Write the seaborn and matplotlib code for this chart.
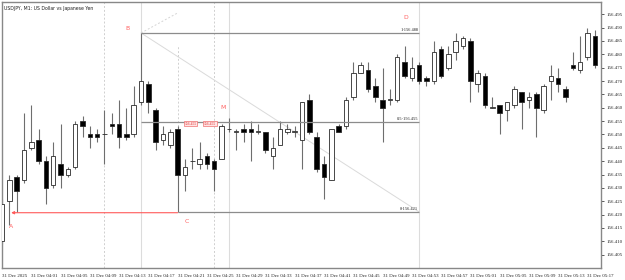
import numpy as np
import pandas as pd
import matplotlib
matplotlib.use("Agg")
import matplotlib.pyplot as plt
import seaborn as sns

# ---------------- data (USDJPY M1 candles) ----------------
tick_labels = ["31 Dec 2025", "31 Dec 04:01", "31 Dec 04:05", "31 Dec 04:09", "31 Dec 04:13",
               "31 Dec 04:17", "31 Dec 04:21", "31 Dec 04:25", "31 Dec 04:29", "31 Dec 04:33",
               "31 Dec 04:37", "31 Dec 04:41", "31 Dec 04:45", "31 Dec 04:49", "31 Dec 04:53",
               "31 Dec 04:57", "31 Dec 05:01", "31 Dec 05:05", "31 Dec 05:09", "31 Dec 05:13",
               "31 Dec 05:17"]

open_ = [156.410, 156.425, 156.434, 156.433, 156.445, 156.448, 156.440, 156.431, 156.439, 156.435,
         156.438, 156.455, 156.450, 156.450, 156.450, 156.454, 156.454, 156.450, 156.450, 156.462,
         156.469, 156.459, 156.448, 156.446, 156.452, 156.435, 156.440, 156.439, 156.442, 156.440,
         156.441, 156.452, 156.451, 156.452, 156.452, 156.451, 156.451, 156.442, 156.446, 156.451,
         156.451, 156.448, 156.463, 156.449, 156.439, 156.433, 156.453, 156.453, 156.464, 156.473,
         156.474, 156.468, 156.463, 156.463, 156.463, 156.477, 156.471, 156.476, 156.471, 156.470,
         156.482, 156.475, 156.481, 156.483, 156.485, 156.469, 156.472, 156.460, 156.461, 156.459,
         156.461, 156.466, 156.463, 156.465, 156.459, 156.470, 156.471, 156.467, 156.476, 156.474,
         156.479, 156.487]
high = [156.426, 156.435, 156.435, 156.458, 156.461, 156.452, 156.442, 156.447, 156.454, 156.438,
        156.455, 156.457, 156.453, 156.452, 156.459, 156.458, 156.463, 156.460, 156.468, 156.488,
        156.470, 156.460, 156.453, 156.452, 156.453, 156.441, 156.445, 156.447, 156.443, 156.441,
        156.454, 156.456, 156.452, 156.454, 156.455, 156.454, 156.451, 156.449, 156.455, 156.454,
        156.453, 156.462, 156.465, 156.451, 156.442, 156.452, 156.454, 156.464, 156.477, 156.477,
        156.477, 156.471, 156.475, 156.467, 156.480, 156.483, 156.479, 156.477, 156.472, 156.485,
        156.483, 156.483, 156.488, 156.487, 156.486, 156.474, 156.473, 156.464, 156.461, 156.462,
        156.468, 156.466, 156.466, 156.466, 156.469, 156.476, 156.475, 156.468, 156.481, 156.487,
        156.490, 156.489]
low = [156.409, 156.416, 156.421, 156.432, 156.444, 156.439, 156.424, 156.430, 156.430, 156.434,
       156.437, 156.449, 156.445, 156.447, 156.439, 156.450, 156.445, 156.448, 156.449, 156.461,
       156.458, 156.444, 156.446, 156.445, 156.421, 156.429, 156.437, 156.437, 156.437, 156.429,
       156.441, 156.451, 156.444, 156.447, 156.440, 156.450, 156.443, 156.437, 156.446, 156.450,
       156.449, 156.437, 156.450, 156.436, 156.426, 156.433, 156.451, 156.452, 156.463, 156.473,
       156.466, 156.462, 156.447, 156.461, 156.462, 156.471, 156.470, 156.469, 156.468, 156.469,
       156.471, 156.474, 156.478, 156.482, 156.462, 156.466, 156.460, 156.460, 156.450, 156.455,
       156.460, 156.452, 156.460, 156.449, 156.458, 156.463, 156.466, 156.462, 156.474, 156.473,
       156.478, 156.475]
close = [156.424, 156.433, 156.429, 156.444, 156.447, 156.440, 156.430, 156.442, 156.435, 156.437,
         156.454, 156.453, 156.449, 156.449, 156.450, 156.453, 156.449, 156.449, 156.461, 156.470,
         156.462, 156.447, 156.450, 156.451, 156.435, 156.438, 156.440, 156.441, 156.439, 156.437,
         156.453, 156.452, 156.451, 156.451, 156.451, 156.451, 156.444, 156.445, 156.452, 156.452,
         156.451, 156.462, 156.451, 156.437, 156.434, 156.452, 156.451, 156.463, 156.473, 156.476,
         156.467, 156.464, 156.460, 156.463, 156.479, 156.472, 156.475, 156.470, 156.470, 156.481,
         156.472, 156.480, 156.485, 156.486, 156.470, 156.473, 156.461, 156.460, 156.458, 156.462,
         156.467, 156.462, 156.464, 156.460, 156.468, 156.472, 156.469, 156.464, 156.475, 156.477,
         156.488, 156.476]

# Fibonacci retracement (B high -> C low) and marker bars
fib_ratios = [1.0, 0.5, 0.0]
bar_B, bar_C, bar_D = 19, 24, 57
yticks = [156.405, 156.410, 156.415, 156.420, 156.425, 156.430, 156.435, 156.440, 156.445, 156.450,
          156.455, 156.460, 156.465, 156.470, 156.475, 156.480, 156.485, 156.490, 156.495]

df = pd.DataFrame({"open": open_, "high": high, "low": low, "close": close})
df["bar"] = np.arange(len(df))
df["bull"] = df["close"] >= df["open"]

# ---------------- style ----------------
sns.set_theme(style="white")
plt.rcParams["font.family"] = ["DejaVu Sans"]

fig = plt.figure(figsize=(6.25, 2.8), dpi=100)
ax = fig.add_axes([2 / 625, 12 / 280, 599 / 625, 266 / 280])

# light vertical lines (objects / separators)
for b in [bar_B, 31, bar_D]:
    ax.axvline(b, color="#dcdcdc", lw=0.8, zorder=0)
for b in [14, 29]:
    ax.axvline(b, color="#cfcfcf", lw=0.7, ls=(0, (2, 2)), zorder=0)

# wicks
ax.vlines(df["bar"], df["low"], df["high"], color="#6e6e6e", lw=0.8, zorder=2)

# bodies
body_bottom = np.minimum(df["open"], df["close"])
body_h = np.abs(df["close"] - df["open"])
body_h = np.where(body_h < 1e-9, 0.00015, body_h)
colors = np.where(df["bull"], "white", "black")
ax.bar(df["bar"], body_h, bottom=body_bottom, width=0.62, color=colors,
       edgecolor="#2a2a2a", linewidth=0.6, zorder=3)

# fibonacci
hiB = df["high"][bar_B]
loC = df["low"][bar_C]
levels = [loC + r * (hiB - loC) for r in fib_ratios]


def fmt(v):
    return f"{np.floor(v * 1000 + 0.5 + 1e-6) / 1000:.3f}"


ax.vlines(bar_C, loC, df["high"][bar_C] + 0.03, color="#d0d0d0", lw=0.7, ls=(0, (2, 2)), zorder=1)
for r, lv in zip(fib_ratios, levels):
    x0 = bar_B if r > 0 else bar_C
    ax.hlines(lv, x0, bar_D, color="#8c8c8c", lw=0.9, zorder=4)
    ax.text(bar_D - 0.1, lv + 0.0004, f"{r:g}-{fmt(lv)}", ha="right", va="bottom",
            fontsize=3.2, family="Liberation Serif", color="#202020", zorder=5)
# diagonal lines from B
ax.plot([bar_B, bar_D], [hiB, loC], color="#dadada", lw=0.7, zorder=1)
ax.plot([bar_B, bar_C], [hiB, hiB + 0.0075], color="#d5d5d5", lw=0.7, ls=(0, (2, 2)), zorder=1)

# red price boxes at 0.5 level
mid = levels[1]
for b in [25.8, 28.4]:
    ax.text(b, mid - 0.0005, fmt(mid), ha="center", va="center", fontsize=2.7,
            color="#e03030", family="Liberation Serif", zorder=6,
            bbox=dict(boxstyle="square,pad=0.15", fc="#ffe4e4", ec="#f07070", lw=0.5))

# red arrow A <- C
ax.annotate("", xy=(1.25, loC - 0.0003), xytext=(bar_C, loC - 0.0003),
            arrowprops=dict(arrowstyle="-|>", color="#ff5a5a", lw=0.8,
                            mutation_scale=4, shrinkA=0, shrinkB=0), zorder=6)

red = "#ff5f5f"
lab_kw = dict(color=red, fontsize=4.4, ha="center", va="center", zorder=7)
ax.text(1.2, loC - 0.0055, "A", **lab_kw)
ax.text(bar_B - 1.8, hiB + 0.0017, "B", **lab_kw)
ax.text(bar_C + 1.3, loC - 0.0037, "C", **lab_kw)
ax.text(bar_D - 1.8, hiB + 0.0058, "D", **lab_kw)
ax.text(30.2, mid + 0.0055, "M", **lab_kw)

# title
ax.text(0.004, 0.985, "USDJPY, M1: US Dollar vs Japanese Yen", transform=ax.transAxes,
        ha="left", va="top", fontsize=3.3, color="#202020")

# axes
ax.set_xlim(0.14, 81.85)
ax.set_ylim(156.400, 156.4996)
ax.yaxis.tick_right()
ax.set_yticks(yticks)
ax.set_yticklabels([f"{v:.3f}" for v in yticks])
ax.set_xticks(np.arange(0, len(tick_labels) * 4, 4))
ax.set_xticklabels(tick_labels, ha="left")
ax.tick_params(axis="both", which="both", direction="out", length=2.5, width=0.6,
               color="#404040", labelsize=3.5, pad=1.2, labelcolor="#202020")
ax.tick_params(axis="x", pad=2.0)
for lab in ax.get_xticklabels() + ax.get_yticklabels():
    lab.set_family("Liberation Serif")
for s in ax.spines.values():
    s.set_color("#888888")
    s.set_linewidth(1.0)
ax.set_xlabel("")
ax.set_ylabel("")
ax.grid(False)

fig.savefig("out.png", dpi=100, facecolor="white")
